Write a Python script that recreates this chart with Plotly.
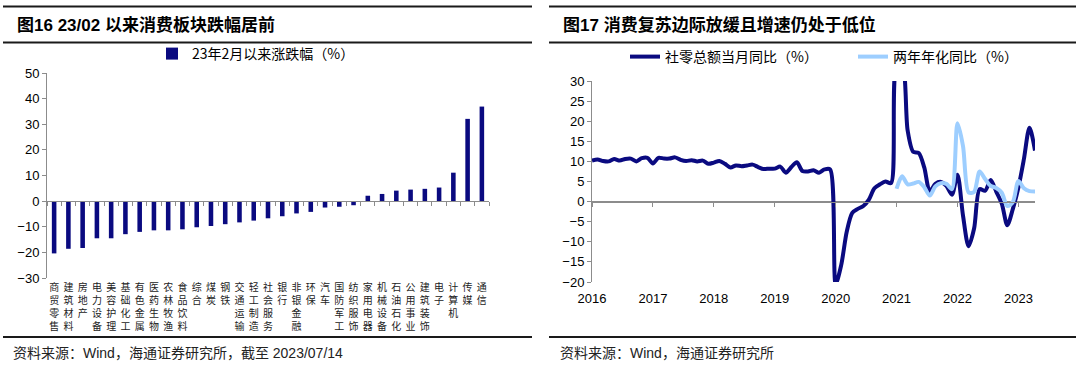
import plotly.graph_objects as go

W, H = 1080, 367

# ---------------- Left panel data ----------------
sectors = ["商贸零售", "建筑材料", "房地产", "电力设备", "美容护理", "基础化工", "有色金属",
           "医药生物", "农林牧渔", "食品饮料", "综合", "煤炭", "钢铁", "交通运输", "轻工制造",
           "社会服务", "银行", "非银金融", "环保", "汽车", "国防军工", "纺织服饰", "家用电器",
           "机械设备", "石油石化", "公用事业", "建筑装饰", "电子", "计算机", "传媒", "通信"]
change_pct = [-20.4, -18.6, -18.3, -14.5, -14.5, -12.9, -12.0, -11.4, -11.4, -11.0, -10.2,
              -9.7, -9.0, -8.3, -7.6, -6.7, -5.9, -4.8, -4.2, -2.5, -2.2, -1.6, 2.1,
              2.8, 4.1, 4.5, 4.8, 5.3, 11.1, 32.1, 36.9]
left_series_name = "23年2月以来涨跌幅（%）"

# ---------------- Right panel data ----------------
years = ["2016", "2017", "2018", "2019", "2020", "2021", "2022", "2023"]
months = ([f"{y}-{m:02d}" for y in years[:-1] for m in range(2, 13)]
          + [f"2023-{m:02d}" for m in range(2, 6)])
retail_yoy = [
    10.2, 10.5, 10.1, 10.0, 10.6, 10.2, 10.6, 10.7, 10.0, 10.8, 10.9,   # 2016
    9.5, 10.9, 10.7, 10.7, 11.0, 10.4, 10.1, 10.3, 10.0, 10.2, 9.4,     # 2017
    9.7, 10.1, 9.4, 8.5, 9.0, 8.8, 9.0, 9.2, 8.6, 8.1, 8.2,             # 2018
    8.2, 8.7, 7.2, 8.6, 9.8, 7.6, 7.5, 7.8, 7.2, 8.0, 8.0,              # 2019
    -20.5, -15.8, -7.5, -2.8, -1.8, -1.1, 0.5, 3.3, 4.3, 5.0, 4.6,      # 2020
    33.8, 34.2, 17.7, 12.4, 12.1, 8.5, 2.5, 4.4, 4.9, 3.9, 1.7,         # 2021
    6.7, -3.5, -11.1, -6.7, 3.1, 2.7, 5.4, 2.5, -0.5, -5.9, -1.8,       # 2022
    3.5, 10.6, 18.4, 12.7]                                              # 2023
two_year_start = "2021-02"
two_year_ann = [
    3.2, 6.3, 4.3, 4.5, 4.9, 3.6, 1.5, 3.8, 4.6, 4.4, 3.1,              # 2021
    19.5, 13.8, 2.3, 2.4, 7.5, 5.6, 3.9, 3.4, 2.2, -1.1, -0.1,          # 2022
    5.1, 3.3, 2.6, 2.5]                                                 # 2023
right_names = ["社零总额当月同比（%）", "两年年化同比（%）"]

# ---------------- styling ----------------
FONT = "Liberation Sans, Noto Sans CJK SC"
NAVY = "#0A0A80"
LIGHT = "#9DCEFF"
AXIS = "#8C8C8C"


def px(x):
    return x / W


def py(y):
    return 1 - y / H


# plot areas (pixels)
L_x0, L_x1, L_ytop, L_ybot = 47, 489, 73, 278
R_x0, R_x1, R_ytop, R_ybot = 592, 1035, 81, 282
L_yr = [-30, 50]
R_yr = [-20, 30]

L_dom_y = [py(L_ybot), py(L_ytop)]
R_dom_y = [py(R_ybot), py(R_ytop)]
# paper position of the value 0 on each value axis (where the category axis sits)
L_zero = L_dom_y[0] + (0 - L_yr[0]) / (L_yr[1] - L_yr[0]) * (L_dom_y[1] - L_dom_y[0])
R_zero = R_dom_y[0] + (0 - R_yr[0]) / (R_yr[1] - R_yr[0]) * (R_dom_y[1] - R_dom_y[0])
# push the tick labels from the zero line down to below the plot area (integer px)
L_standoff = int(round((L_zero - L_dom_y[0]) * H))
R_standoff = int(round((R_zero - R_dom_y[0]) * H)) + 1

fig = go.Figure()

fig.add_trace(go.Bar(
    x=sectors, y=change_pct, name=left_series_name,
    marker=dict(color=NAVY, line=dict(width=0)),
    xaxis="x", yaxis="y", legend="legend", showlegend=True,
))

fig.add_trace(go.Scatter(
    x=months, y=retail_yoy, name=right_names[0], mode="lines",
    line=dict(color=NAVY, width=4, shape="spline", smoothing=0.8),
    xaxis="x2", yaxis="y2", legend="legend2", showlegend=True,
))
start = months.index(two_year_start)
fig.add_trace(go.Scatter(
    x=months[start:], y=two_year_ann, name=right_names[1], mode="lines",
    line=dict(color=LIGHT, width=4, shape="spline", smoothing=0.8),
    xaxis="x2", yaxis="y2", legend="legend2", showlegend=True,
))

n_cat = len(sectors)
n_m = len(months)
year_ticks = [f"{y}-02" for y in years]

value_axis = dict(showline=True, linecolor=AXIS, linewidth=1,
                  ticks="outside", ticklen=4, tickcolor=AXIS, showgrid=False,
                  zeroline=True, zerolinecolor=AXIS, zerolinewidth=1,
                  tickfont=dict(size=13))
cat_axis = dict(showline=True, linecolor=AXIS, linewidth=1,
                ticks="outside", ticklen=4, tickcolor=AXIS, tickwidth=1,
                showgrid=False, zeroline=False, tickangle=0, anchor="free")

fig.update_layout(
    width=W, height=H,
    margin=dict(l=0, r=0, t=0, b=0, autoexpand=False),
    paper_bgcolor="white", plot_bgcolor="rgba(0,0,0,0)",
    font=dict(family=FONT, size=13, color="#000000"),
    showlegend=True,
    bargap=0.68,
    xaxis=dict(
        domain=[px(L_x0), px(L_x1)], position=L_zero, type="category",
        range=[-0.5, n_cat - 0.5],
        tickmode="array", tickvals=sectors, tickson="boundaries",
        ticktext=["<br>".join(list(s)) for s in sectors],
        tickfont=dict(size=10, family="Noto Sans CJK SC", color="#222"),
        ticklabelstandoff=L_standoff, **cat_axis,
    ),
    yaxis=dict(domain=L_dom_y, anchor="x", range=L_yr, dtick=10, **value_axis),
    xaxis2=dict(
        domain=[px(R_x0), px(R_x1)], position=R_zero, type="category",
        categoryorder="array", categoryarray=months,
        range=[0, n_m - 1],
        tickmode="array", tickvals=year_ticks, ticktext=years,
        tickfont=dict(size=13), ticklabelstandoff=R_standoff, **cat_axis,
    ),
    yaxis2=dict(domain=R_dom_y, anchor="x2", range=R_yr, dtick=5, **value_axis),
    legend=dict(
        x=px(152), y=py(54), xanchor="left", yanchor="middle",
        orientation="h", bgcolor="rgba(0,0,0,0)",
        font=dict(size=14, family="Noto Sans CJK SC"),
    ),
    legend2=dict(
        x=px(625), y=py(57), xanchor="left", yanchor="middle",
        orientation="h", bgcolor="rgba(0,0,0,0)",
        font=dict(size=14, family="Noto Sans CJK SC"),
        entrywidth=183, entrywidthmode="pixels",
    ),
)

# titles and sources
annots = [
    dict(text="<b>图16 23/02 以来消费板块跌幅居前</b>", x=px(15), y=py(25)),
    dict(text="<b>图17 消费复苏边际放缓且增速仍处于低位</b>", x=px(561), y=py(25)),
]
for a in annots:
    fig.add_annotation(xref="paper", yref="paper", xanchor="left", yanchor="middle",
                       showarrow=False, font=dict(size=17, family=FONT, color="#000"), **a)
for txt, x in [("资料来源：Wind，海通证券研究所，截至 2023/07/14", 11),
               ("资料来源：Wind，海通证券研究所", 558)]:
    fig.add_annotation(xref="paper", yref="paper", xanchor="left", yanchor="middle",
                       showarrow=False, text=txt, x=px(x), y=py(353),
                       font=dict(size=14, family=FONT, color="#222"))

# panel rules
for x0, x1 in [(3, 532), (549, 1076)]:
    for yy in (6.5, 42.5, 337):
        fig.add_shape(type="line", xref="paper", yref="paper",
                      x0=px(x0), x1=px(x1), y0=py(yy), y1=py(yy),
                      line=dict(color="#1A1A1A", width=2))

fig.write_html("out.html", config={"displayModeBar": False},
               post_script="document.body.style.margin='0';document.body.style.padding='0';")
